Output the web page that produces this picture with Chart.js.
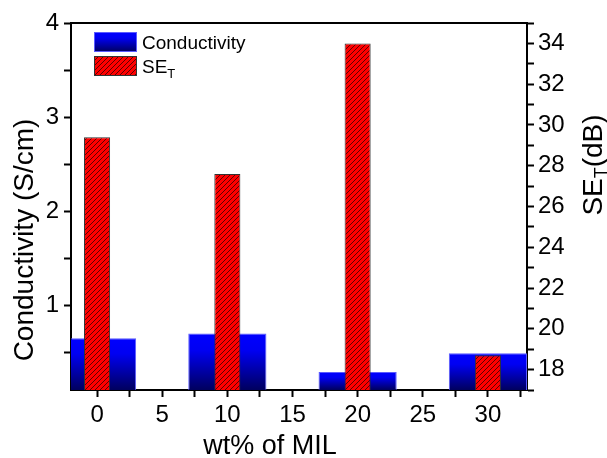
<!DOCTYPE html>
<html>
<head>
<meta charset="utf-8">
<script src="https://cdn.jsdelivr.net/npm/chart.js@4"></script>
<style>
  html, body { margin: 0; padding: 0; background: #fff; }
  #wrap { width: 607px; height: 458px; }
</style>
</head>
<body>
<div id="wrap"><canvas id="chart" width="607" height="458"></canvas></div>
<script>
// ---- DATA ----
const wtPercent = [0, 10, 20, 30];
const conductivity = [0.65, 0.70, 0.29, 0.49];
const shielding = [29.4, 27.6, 34.0, 18.7];

const xTicks = [0, 2.5, 5, 7.5, 10, 12.5, 15, 17.5, 20, 22.5, 25, 27.5, 30, 32.5];
const xLabels = [0, 5, 10, 15, 20, 25, 30];
const leftTicks = [0.5, 1, 1.5, 2, 2.5, 3, 3.5, 4];
const leftLabels = [1, 2, 3, 4];
const rightTicks = [17, 18, 19, 20, 21, 22, 23, 24, 25, 26, 27, 28, 29, 30, 31, 32, 33, 34, 35];
const rightLabels = [18, 20, 22, 24, 26, 28, 30, 32, 34];

const FONT = 'Arial, "Liberation Sans", sans-serif';

// ---- FILLS ----
function makeHatch() {
  const s = 5;
  const c = document.createElement('canvas');
  c.width = s; c.height = s;
  const g = c.getContext('2d');
  g.fillStyle = '#ff0000';
  g.fillRect(0, 0, s, s);
  g.strokeStyle = '#1a0000';
  g.lineWidth = 0.7;
  g.beginPath();
  g.moveTo(0, s); g.lineTo(s, 0);
  g.moveTo(-1, 1); g.lineTo(1, -1);
  g.moveTo(s - 1, s + 1); g.lineTo(s + 1, s - 1);
  g.stroke();
  return g.createPattern(c, 'repeat');
}
const hatch = makeHatch();

function blueGradient(ctx, top, bottom) {
  const gr = ctx.createLinearGradient(0, top, 0, bottom);
  gr.addColorStop(0, '#0000ff');
  gr.addColorStop(0.3, '#0000f2');
  gr.addColorStop(1, '#00005e');
  return gr;
}

function blueFill(context) {
  const chart = context.chart;
  const area = chart.chartArea;
  if (!area || !context.parsed) return '#0000ff';
  const top = chart.scales.yL.getPixelForValue(context.parsed.y);
  return blueGradient(chart.ctx, top, area.bottom);
}

// ---- PLUGINS ----
const decorations = {
  id: 'decorations',
  afterDraw(chart) {
    const ctx = chart.ctx;
    const a = chart.chartArea;
    ctx.save();

    // top frame line
    ctx.strokeStyle = '#000';
    ctx.lineWidth = 2;
    ctx.beginPath();
    ctx.moveTo(a.left - 1, a.top);
    ctx.lineTo(a.right + 1, a.top);
    ctx.stroke();

    ctx.fillStyle = '#000';

    // x title
    ctx.font = '27px ' + FONT;
    ctx.textAlign = 'center';
    ctx.textBaseline = 'alphabetic';
    ctx.fillText('wt% of MIL', 270, 454);

    // left title
    ctx.save();
    ctx.translate(33, 240);
    ctx.rotate(-Math.PI / 2);
    ctx.font = '28px ' + FONT;
    ctx.textAlign = 'center';
    ctx.fillText('Conductivity (S/cm)', 0, 0);
    ctx.restore();

    // right title SE_T(dB)
    ctx.save();
    ctx.translate(602, 165);
    ctx.rotate(-Math.PI / 2);
    ctx.textAlign = 'left';
    ctx.font = '28px ' + FONT;
    const wSE = ctx.measureText('SE').width;
    const wDB = ctx.measureText('(dB)').width;
    ctx.font = '18px ' + FONT;
    const wT = ctx.measureText('T').width;
    let x = -(wSE + wT + wDB) / 2;
    ctx.font = '28px ' + FONT;
    ctx.fillText('SE', x, 0);
    x += wSE;
    ctx.font = '18px ' + FONT;
    ctx.fillText('T', x, 5);
    x += wT;
    ctx.font = '28px ' + FONT;
    ctx.fillText('(dB)', x, 0);
    ctx.restore();

    // legend
    const ds = chart.data.datasets;
    const bx = 94, bw = 43, bh = 20;
    const rows = [
      { y: 32, fill: blueGradient(ctx, 32, 52), border: '#5a5aff', label: ds[1].label, sub: '' },
      { y: 56, fill: hatch, border: '#333', label: ds[0].label, sub: 'T' },
    ];
    rows.forEach(r => {
      ctx.fillStyle = r.fill;
      ctx.fillRect(bx, r.y, bw, bh);
      ctx.strokeStyle = r.border;
      ctx.lineWidth = 1;
      ctx.strokeRect(bx + 0.5, r.y + 0.5, bw - 1, bh - 1);
      ctx.fillStyle = '#000';
      ctx.font = '19px ' + FONT;
      ctx.textAlign = 'left';
      ctx.textBaseline = 'alphabetic';
      const base = r.y + bh / 2 + 7;
      ctx.fillText(r.label, 142, base);
      if (r.sub) {
        const w = ctx.measureText(r.label).width;
        ctx.font = '13px ' + FONT;
        ctx.fillText(r.sub, 142 + w, base + 5);
      }
    });

    ctx.restore();
  }
};

// ---- CHART ----
const tickFont = { family: FONT, size: 24 };

new Chart(document.getElementById('chart'), {
  type: 'bar',
  data: {
    datasets: [
      {
        label: 'SE',
        data: wtPercent.map((x, i) => ({ x, y: shielding[i] })),
        yAxisID: 'yR',
        backgroundColor: hatch,
        borderColor: '#333',
        borderWidth: 1,
        borderSkipped: 'start',
        barPercentage: 0.8,
        categoryPercentage: 1,
        grouped: false,
        order: 0,
      },
      {
        label: 'Conductivity',
        data: wtPercent.map((x, i) => ({ x, y: conductivity[i] })),
        yAxisID: 'yL',
        backgroundColor: blueFill,
        borderColor: '#5a5aff',
        borderWidth: 1,
        borderSkipped: 'start',
        barPercentage: 2.4,
        categoryPercentage: 1,
        grouped: false,
        order: 1,
      },
    ],
  },
  options: {
    responsive: false,
    devicePixelRatio: 1,
    animation: false,
    layout: { padding: { top: 23, left: 0, right: 0, bottom: 0 } },
    plugins: { legend: { display: false }, tooltip: { enabled: false } },
    scales: {
      x: {
        type: 'linear',
        position: 'bottom',
        min: -2,
        max: 33,
        offset: false,
        afterBuildTicks: s => { s.ticks = xTicks.map(v => ({ value: v })); },
        afterFit: s => { s.height = 68; },
        grid: { drawOnChartArea: false, offset: false, tickLength: 7, tickColor: '#000', tickWidth: 2 },
        border: { display: true, color: '#000', width: 2 },
        ticks: {
          color: '#000',
          font: tickFont,
          padding: 4,
          autoSkip: false,
          maxRotation: 0,
          callback: v => xLabels.includes(v) ? String(v) : '',
        },
      },
      yL: {
        type: 'linear',
        position: 'left',
        min: 0.1,
        max: 4,
        afterBuildTicks: s => { s.ticks = leftTicks.map(v => ({ value: v })); },
        afterFit: s => { s.width = 71; },
        grid: { drawOnChartArea: false, tickLength: 7, tickColor: '#000', tickWidth: 2 },
        border: { display: true, color: '#000', width: 2 },
        ticks: {
          color: '#000',
          font: tickFont,
          padding: 5,
          autoSkip: false,
          callback: v => leftLabels.includes(v) ? String(v) : '',
        },
      },
      yR: {
        type: 'linear',
        position: 'right',
        min: 17,
        max: 35,
        afterBuildTicks: s => { s.ticks = rightTicks.map(v => ({ value: v })); },
        afterFit: s => { s.width = 80; },
        grid: { drawOnChartArea: false, tickLength: 7, tickColor: '#000', tickWidth: 2 },
        border: { display: true, color: '#000', width: 2 },
        ticks: {
          color: '#000',
          font: tickFont,
          padding: 4,
          autoSkip: false,
          callback: v => rightLabels.includes(v) ? String(v) : '',
        },
      },
    },
  },
  plugins: [decorations],
});
</script>
</body>
</html>
